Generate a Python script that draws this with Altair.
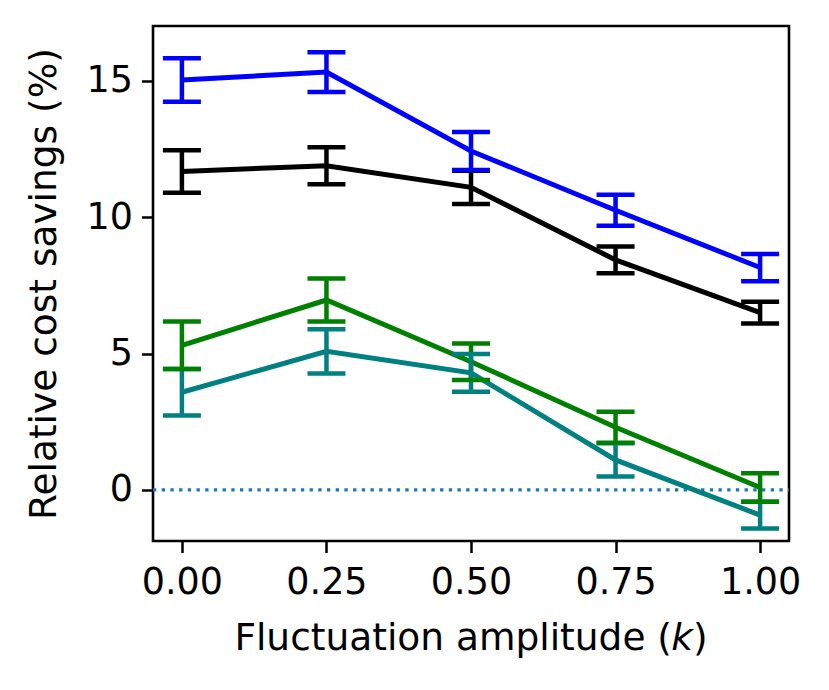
import altair as alt
import pandas as pd

k_values = [0.0, 0.25, 0.5, 0.75, 1.0]

blue_mean = [15.02, 15.31, 12.42, 10.25, 8.15]
blue_err = [0.80, 0.73, 0.70, 0.57, 0.50]
black_mean = [11.67, 11.88, 11.09, 8.43, 6.50]
black_err = [0.78, 0.68, 0.61, 0.49, 0.40]
green_mean = [5.30, 6.96, 4.70, 2.30, 0.09]
green_err = [0.87, 0.79, 0.67, 0.57, 0.52]
teal_mean = [3.58, 5.08, 4.29, 1.10, -0.92]
teal_err = [0.85, 0.81, 0.69, 0.61, 0.49]

series_names = ["blue", "black", "green", "teal"]
series_colors = ["#0000ff", "#000000", "#008000", "#008080"]
x_ticks = [0.0, 0.25, 0.5, 0.75, 1.0]
y_ticks = [0, 5, 10, 15]

rows = []
for name, means, errs in [("blue", blue_mean, blue_err), ("black", black_mean, black_err),
                          ("green", green_mean, green_err), ("teal", teal_mean, teal_err)]:
    for kv, m, e in zip(k_values, means, errs):
        rows.append({"series": name, "k": kv, "mean": m, "lo": m - e, "hi": m + e})
df = pd.DataFrame(rows)

W, H = 636, 515
FONT = "DejaVu Sans"
FS = 36.5
FT = 37.5

xscale = alt.Scale(domain=[-0.05, 1.05], nice=False, zero=False)
yscale = alt.Scale(domain=[-1.87, 17.0], nice=False, zero=False)
cscale = alt.Scale(domain=series_names, range=series_colors)

base = alt.Chart(df)

xenc = alt.X("k:Q", scale=xscale,
             axis=alt.Axis(values=x_ticks, format=".2f", title=None, grid=False, domain=False,
                           tickColor="black", tickWidth=2.5, tickSize=11.5,
                           labelFont=FONT, labelFontSize=FS, labelColor="black",
                           labelPadding=12, labelFlush=False))
yenc = alt.Y("mean:Q", scale=yscale,
             axis=alt.Axis(values=y_ticks, title="Relative cost savings (%)", grid=False, domain=False,
                           tickColor="black", tickWidth=2.5, tickSize=11.5,
                           labelFont=FONT, labelFontSize=FS, labelColor="black",
                           labelPadding=9, labelFlush=False,
                           titleFont=FONT, titleFontSize=FT, titleFontWeight="normal",
                           titleColor="black", titleX=-98, titleBaseline="alphabetic",
                           titleAngle=270))
color = alt.Color("series:N", scale=cscale, legend=None)

zero_line = alt.Chart(pd.DataFrame({"y0": [0]})).mark_rule(
    color="#1f77b4", strokeWidth=3.3, strokeDash=[3.3, 5.4]
).encode(y=alt.Y("y0:Q", scale=yscale), x=alt.value(0), x2=alt.value(W))

lines = base.mark_line(strokeWidth=5).encode(x=xenc, y=yenc, color=color, detail="series:N",
                                              order="k:Q")

bars = base.mark_rule(strokeWidth=4.5).encode(
    x="k:Q", y=alt.Y("lo:Q", scale=yscale), y2="hi:Q", color=color)

caps_hi = base.mark_tick(size=38, thickness=4.5, orient="horizontal", opacity=1).encode(
    x="k:Q", y=alt.Y("hi:Q", scale=yscale), color=color)
caps_lo = base.mark_tick(size=38, thickness=4.5, orient="horizontal", opacity=1).encode(
    x="k:Q", y=alt.Y("lo:Q", scale=yscale), color=color)

TY = H + 109
t1 = alt.Chart(pd.DataFrame({"t": ["Fluctuation amplitude ("]})).mark_text(
    font=FONT, fontSize=FT, align="right", baseline="alphabetic", color="black").encode(
    text="t:N", x=alt.value(519), y=alt.value(TY))
t2 = alt.Chart(pd.DataFrame({"t": ["k"]})).mark_text(
    font=FONT, fontSize=FT, fontStyle="italic", align="center", baseline="alphabetic",
    color="black").encode(text="t:N", x=alt.value(529), y=alt.value(TY))
t3 = alt.Chart(pd.DataFrame({"t": [")"]})).mark_text(
    font=FONT, fontSize=FT, align="left", baseline="alphabetic", color="black").encode(
    text="t:N", x=alt.value(540), y=alt.value(TY))

chart = alt.layer(zero_line, lines, bars, caps_hi, caps_lo, t1, t2, t3).properties(
    width=W, height=H,
    autosize=alt.AutoSizeParams(type="none"),
    padding={"left": 145, "top": 18, "right": 24, "bottom": 140},
    background="white",
).configure_view(stroke="black", strokeWidth=2.6)

chart.save("out.html", embed_options={"renderer": "svg", "actions": False})
